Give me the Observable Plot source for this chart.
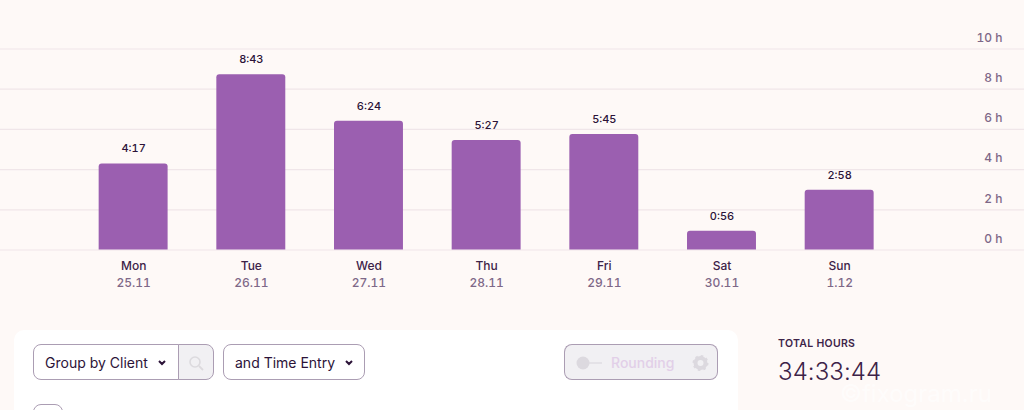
<!DOCTYPE html>
<html><head><meta charset="utf-8">
<script src="https://cdn.jsdelivr.net/npm/d3@7"></script>
<script src="https://cdn.jsdelivr.net/npm/@observablehq/plot@0.6"></script>
<style>
html,body{margin:0;padding:0;width:1024px;height:410px;overflow:hidden;background:#fef9f7;font-family:Inter,sans-serif;color:#2c1338}
#chart{position:absolute;left:0;top:0}
#chart svg{display:block;background:transparent}
.card{position:absolute;left:14px;top:330px;width:724px;height:100px;background:#fff;border-radius:10px}
.box{position:absolute;box-sizing:border-box;top:344px;height:36px;border:1.5px solid #ab9db3;border-radius:8px;background:#fff;font-size:14px;line-height:35px}
.lab{position:absolute;white-space:nowrap;line-height:1}
.grey{background:#f1f0f3}
</style></head><body>
<div id="chart"></div>
<div class="card"></div>
<div class="box" style="left:33px;width:146px;border-radius:8px 0 0 8px;padding-left:11px">Group by Client</div>
<div class="box grey" style="left:177.5px;width:36px;border-radius:0 8px 8px 0;border-left-width:1.5px"></div>
<div class="box" style="left:223px;width:142px;padding-left:11px">and Time Entry</div>
<div class="box grey" style="left:564px;width:120px;border-radius:8px 0 0 8px;border-right:1px solid #7d6a86;color:#e2cfe8;padding-left:46px;font-weight:500">Rounding</div>
<div class="box grey" style="left:683px;width:35px;border-radius:0 8px 8px 0;border-left:0"></div>
<div class="box" style="left:33px;top:404px;width:30px;height:30px"></div>
<svg style="position:absolute;left:0;top:330px" width="1024" height="80">
  <path d="M159 31l3 3 3-3M346 31l3 3 3-3" fill="none" stroke="#2c1338" stroke-width="2"/>
  <circle cx="195" cy="32" r="5" fill="none" stroke="#dcdade" stroke-width="1.6"/><path d="M199 36l4 4" stroke="#dcdade" stroke-width="1.8"/>
  <circle cx="583" cy="33" r="6.5" fill="#dcd9df"/><path d="M589 33h13" stroke="#dcd9df" stroke-width="1.2"/>
  <circle cx="700.5" cy="33" r="5" fill="none" stroke="#dcd9df" stroke-width="4"/><circle cx="700.5" cy="33" r="7" fill="none" stroke="#dcd9df" stroke-width="2" stroke-dasharray="2.5 3"/>
</svg>
<div class="lab" style="left:778px;top:339px;font-size:10.5px;font-weight:600;letter-spacing:.3px;color:#3d2348">TOTAL HOURS</div>
<div class="lab" style="left:778px;top:360px;font-size:24px;font-weight:300;letter-spacing:.1px;color:#3d2348">34:33:44</div>
<div class="lab" style="left:840px;top:382px;font-size:24px;color:#fff;opacity:.6">©fixogram.ru</div>
<script>
const days = ["Mon","Tue","Wed","Thu","Fri","Sat","Sun"];
const dates = ["25.11","26.11","27.11","28.11","29.11","30.11","1.12"];
const durations = ["4:17","8:43","6:24","5:27","5:45","0:56","2:58"];
const hours = [4.283,8.717,6.4,5.45,5.75,0.933,2.967];
const yTicks = [0,2,4,6,8,10];
const rows = days.map((day,i)=>({day,hours:hours[i],label:durations[i]}));
const plot = Plot.plot({
  width:1024,height:320,
  marginTop:48.5,marginBottom:70.5,marginLeft:0,marginRight:0,
  style:{background:"transparent",fontFamily:"Inter, sans-serif",fontSize:"12px"},
  x:{domain:days,range:[74.3,898],paddingInner:0.414,paddingOuter:0.207,align:0.5,round:false},
  y:{domain:[0,10]},
  marks:[
    Plot.ruleY(yTicks,{stroke:"#f0e6e9",strokeWidth:1.2}),
    Plot.barY(rows,{x:"day",y:"hours",fill:"#9b5fb0",ry1:3}),
    Plot.text(rows,{x:"day",y:"hours",text:"label",dy:-15,fill:"#2c1338",fontSize:11,fontWeight:500,fontVariant:"tabular-nums"}),
    Plot.axisY(yTicks,{anchor:"right",label:null,tickSize:0,tickPadding:0,dx:-22,dy:-11,textAnchor:"end",tickFormat:d=>d+" h",fill:"#7e6888",fontWeight:500,fontSize:12}),
    Plot.axisX({label:null,tickSize:0,tickPadding:11,tickFormat:d=>d,fill:"#3d2348",fontWeight:500,fontSize:12}),
    Plot.axisX({label:null,tickSize:0,tickPadding:28,tickFormat:d=>dates[days.indexOf(d)],fill:"#7e6888",fontWeight:500,fontSize:12,fontVariant:"tabular-nums"})
  ]
});
document.getElementById("chart").appendChild(plot);
</script>
</body></html>
